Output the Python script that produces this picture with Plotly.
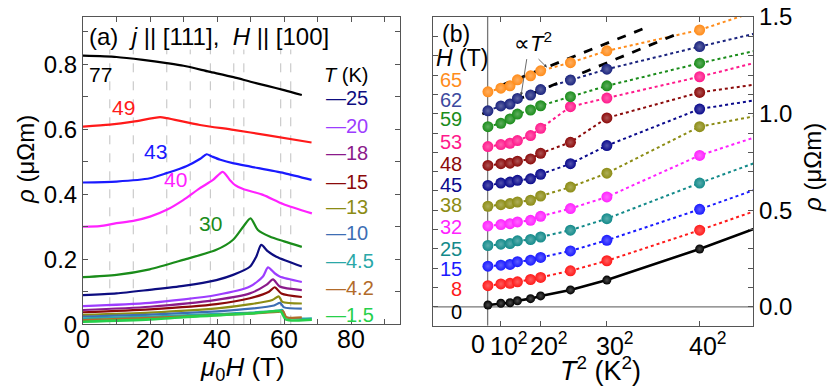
import plotly.graph_objects as go

W, H = 830, 391
FONT = "Liberation Sans, Arial, sans-serif"


def px(x):
    return x / W


def py(y):
    return 1 - y / H


def lighter(hex_color, f=0.55):
    r, g, b = (int(hex_color[i:i + 2], 16) for i in (1, 3, 5))
    r, g, b = (int(v + (255 - v) * f) for v in (r, g, b))
    return f"#{r:02x}{g:02x}{b:02x}"


# ---------------- panel (a): rho vs mu0H ----------------
h77 = [0, 10, 17.9, 25, 30, 37.6, 44.9, 50, 55, 60, 65.3]
r77 = [0.826, 0.822, 0.813, 0.803, 0.795, 0.777, 0.760, 0.746, 0.733, 0.720, 0.705]
h49 = [0, 8, 15, 23, 25, 34.9, 44.9, 54.8, 68.2]
r49 = [0.608, 0.614, 0.623, 0.637, 0.634, 0.613, 0.598, 0.582, 0.559]
h43 = [0, 10, 20, 25, 31, 35, 36.9, 38.5, 41, 45, 50, 60, 68.2]
r43 = [0.436, 0.439, 0.449, 0.465, 0.487, 0.509, 0.523, 0.516, 0.506, 0.495, 0.485, 0.465, 0.444]
h40 = [0, 5, 10, 15, 20, 25, 29.9, 34.8, 38.8, 41.7, 43.8, 45.4, 47.8, 53.7, 59.7, 68.3]
r40 = [0.300, 0.302, 0.311, 0.318, 0.331, 0.352, 0.382, 0.418, 0.444, 0.469, 0.444, 0.428, 0.416, 0.398, 0.370, 0.341]
h30 = [0, 10, 19.9, 29.9, 39.8, 44.8, 47.8, 50, 52.2, 55.7, 60, 65.3]
r30 = [0.145, 0.152, 0.169, 0.198, 0.229, 0.260, 0.300, 0.326, 0.290, 0.270, 0.255, 0.238]
h25 = [0, 10, 19.9, 29.9, 39.8, 44.8, 49.8, 51.7, 53.2, 55.2, 57.7, 65.3]
r25 = [0.090, 0.095, 0.106, 0.118, 0.136, 0.152, 0.177, 0.208, 0.244, 0.224, 0.208, 0.178]
h20 = [0, 19.9, 39.8, 49.8, 53.7, 55.2, 57.2, 58.7, 65.3]
r20 = [0.056, 0.066, 0.090, 0.116, 0.147, 0.175, 0.157, 0.147, 0.130]
h18 = [0, 19.9, 39.8, 49.8, 54.7, 56.7, 58.7, 65.3]
r18 = [0.044, 0.054, 0.075, 0.095, 0.121, 0.138, 0.116, 0.105]
h15 = [0, 19.9, 39.8, 49.8, 55.5, 57.2, 59.2, 65.3]
r15 = [0.037, 0.046, 0.062, 0.080, 0.100, 0.114, 0.095, 0.084]
h13 = [0, 20, 40, 50, 56.5, 58.4, 59.5, 65.3]
r13 = [0.029, 0.036, 0.049, 0.062, 0.075, 0.086, 0.069, 0.064]
h10 = [0, 20, 40, 50, 57, 58.8, 60, 65.3]
r10 = [0.024, 0.030, 0.040, 0.048, 0.058, 0.066, 0.052, 0.048]
h4_5 = [0, 20, 40, 50, 58, 59.5, 60.5, 68.3]
r4_5 = [0.018, 0.024, 0.032, 0.036, 0.042, 0.044, 0.022, 0.018]
h4_2 = [0, 20, 40, 50, 58, 59.7, 60.7, 65.3]
r4_2 = [0.013, 0.020, 0.028, 0.033, 0.038, 0.040, 0.022, 0.021]
h1_5 = [0, 20, 35, 50, 57, 59, 60.5, 68.3]
r1_5 = [0.008, 0.015, 0.025, 0.033, 0.040, 0.040, 0.015, 0.014]

curves_a = [
    ("77", h77, r77, "#000000"),
    ("49", h49, r49, "#ff1a1a"),
    ("43", h43, r43, "#1a1aff"),
    ("40", h40, r40, "#ff22ff"),
    ("30", h30, r30, "#1a8c1a"),
    ("25", h25, r25, "#0d0d80"),
    ("20", h20, r20, "#9d3dff"),
    ("18", h18, r18, "#8b1a8b"),
    ("15", h15, r15, "#8b0a0a"),
    ("13", h13, r13, "#8c8c14"),
    ("10", h10, r10, "#3d6eb4"),
    ("4.5", h4_5, r4_5, "#2aa8a8"),
    ("4.2", h4_2, r4_2, "#b26b2a"),
    ("1.5", h1_5, r1_5, "#26d04a"),
]
legend_T = ["25", "20", "18", "15", "13", "10", "4.5", "4.2", "1.5"]
legend_y = [0.696, 0.610, 0.527, 0.438, 0.361, 0.281, 0.195, 0.112, 0.029]
curve_labels = ["77", "49", "43", "40", "30"]
curve_label_x = [5.1, 12.2, 21.7, 27.7, 37.9]
curve_label_y = [0.767, 0.668, 0.531, 0.444, 0.311]
dash_fields = [8, 15, 25, 32, 38, 45, 48, 59, 62]
xtick_a = [0, 20, 40, 60, 80]

# ---------------- panel (b): rho vs T^2 ----------------
T_pts = [1.5, 10, 13, 15, 18, 20, 25, 30, 40]
T_edge = 46  # line continues past the right frame
fields = [0, 8, 15, 25, 32, 38, 45, 48, 53, 59, 62, 65]
field_colors = ["#000000", "#ff1a1a", "#1a1aff", "#138a8a", "#ff22ff", "#8c8c14",
                "#0a0a8c", "#8b0a0a", "#ff1a8c", "#1a8c1a", "#1a237e", "#ff8c1a"]
label_colors = ["#000000", "#ff1a1a", "#1a1aff", "#138a8a", "#ff22ff", "#8c8c14",
                "#0a0a8c", "#8b0a0a", "#ff1a8c", "#1a8c1a", "#3d4aa0", "#ff8c1a"]
rho_b = [
    [0.010, 0.019, 0.022, 0.032, 0.043, 0.057, 0.088, 0.139, 0.300],
    [0.110, 0.119, 0.122, 0.130, 0.142, 0.153, 0.187, 0.239, 0.397],
    [0.211, 0.216, 0.220, 0.234, 0.242, 0.256, 0.290, 0.345, 0.505],
    [0.318, 0.325, 0.328, 0.342, 0.349, 0.362, 0.397, 0.457, 0.641],
    [0.419, 0.426, 0.431, 0.440, 0.448, 0.469, 0.509, 0.569, 0.784],
    [0.521, 0.529, 0.535, 0.543, 0.552, 0.574, 0.620, 0.692, 0.933],
    [0.629, 0.641, 0.646, 0.655, 0.663, 0.686, 0.741, 0.835, 1.024],
    [0.732, 0.741, 0.744, 0.754, 0.766, 0.795, 0.852, 0.978, 1.110],
    [0.830, 0.840, 0.847, 0.861, 0.887, 0.924, 1.036, 1.081, 1.191],
    [0.933, 0.950, 0.973, 0.998, 1.019, 1.041, 1.088, 1.144, 1.261],
    [1.015, 1.040, 1.050, 1.079, 1.096, 1.125, 1.174, 1.230, 1.347],
    [1.113, 1.132, 1.144, 1.175, 1.196, 1.222, 1.264, 1.325, 1.433],
]
rho_edge = [0.43, 0.52, 0.63, 0.77, 0.90, 1.00, 1.08, 1.16, 1.28, 1.34, 1.43, 1.55]
field_label_y = [-0.026, 0.093, 0.196, 0.299, 0.412, 0.526, 0.629, 0.742, 0.851, 0.974, 1.072, 1.175]
fit_lo_x, fit_lo_y = [-40, 1454], [0.998, 1.419]
fit_hi_x, fit_hi_y = [-30, 1228], [1.110, 1.454]
xtick_b = [0, 100, 400, 900, 1600]
xtick_b_text = ["0", "10<sup>2</sup>", "20<sup>2</sup>", "30<sup>2</sup>", "40<sup>2</sup>"]

fig = go.Figure()

for name, hh, rr, col in curves_a:
    fig.add_trace(go.Scatter(x=hh, y=rr, mode="lines", xaxis="x", yaxis="y",
                             line=dict(color=col, width=2.6 if name == "1.5" else 2.2,
                                       shape="spline", smoothing=0.7),
                             showlegend=False, hoverinfo="skip"))

T2 = [t ** 2 for t in T_pts] + [T_edge ** 2]
for f, col, rr, re in zip(fields, field_colors, rho_b, rho_edge):
    solid = f == 0
    fig.add_trace(go.Scatter(x=T2, y=rr + [re], mode="lines", xaxis="x2", yaxis="y2",
                             line=dict(color=col, width=2.6 if solid else 2,
                                       dash="solid" if solid else "dot"),
                             showlegend=False, hoverinfo="skip"))
for xs, ys in ((fit_lo_x, fit_lo_y), (fit_hi_x, fit_hi_y)):
    fig.add_trace(go.Scatter(x=xs, y=ys, mode="lines", xaxis="x2", yaxis="y2",
                             line=dict(color="black", width=2.8, dash="dash"),
                             showlegend=False, hoverinfo="skip"))
for f, col, rr in zip(fields, field_colors, rho_b):
    fig.add_trace(go.Scatter(x=T2[:-1], y=rr, mode="markers", xaxis="x2", yaxis="y2",
                             marker=dict(size=9 if f == 0 else 11, color=col, line=dict(width=0),
                                         gradient=dict(type="radial", color=lighter(col, 0.3))),
                             showlegend=False, hoverinfo="skip"))


def text(x, y, s, size, color="black", xref="paper", yref="paper", xa="center", ya="middle", **kw):
    return dict(x=x, y=y, xref=xref, yref=yref, text=s, showarrow=False,
                xanchor=xa, yanchor=ya, font=dict(size=size, color=color), **kw)


ann = []
for t, yv in zip(legend_T, legend_y):
    col = [c for n, _, _, c in curves_a if n == t][0]
    ann.append(text(px(324), yv, "\u2014" + t, 20, col, yref="y", xa="left"))
ann.append(text(px(322), 0.767, "<i>T</i> (K)", 20, yref="y", xa="left"))
for lab, xv, yv in zip(curve_labels, curve_label_x, curve_label_y):
    col = [c for n, _, _, c in curves_a if n == lab][0]
    ann.append(text(xv, yv, lab, 21, col, xref="x", yref="y"))
ann.append(text(px(87), py(36), "(a)  <i>j</i> || [111],  <i>H</i> || [100]", 24, xa="left"))
for xv in xtick_a:
    ann.append(text(xv, py(339), str(xv), 25, xref="x"))
ann.append(text(px(242), py(368), "<i>\u03bc</i><sub>0</sub><i>H</i> (T)", 26))
ann.append(text(px(26), py(160), "<i>\u03c1</i> (\u03bc\u03a9m)", 24, textangle=-90))

# panel (b) texts
ann.append(text(px(440), py(34), "(b)", 23, xa="left"))
ann.append(text(px(434), py(58), "<i>H</i> (T)", 23, xa="left"))
for f, col, yv in zip(fields, label_colors, field_label_y):
    ann.append(text(px(464), yv, str(f), 20, col, yref="y2", xa="right"))
for xv, txt in zip(xtick_b, xtick_b_text):
    ann.append(text(xv, py(344), txt, 25, xref="x2", xshift=-10 if xv == 0 else 8))
ann.append(text(px(600), py(369), "<i>T</i><sup>2</sup> (K<sup>2</sup>)", 27))
ann.append(text(px(812), py(168), "<i>\u03c1</i> (\u03bc\u03a9m)", 24, textangle=-90))
ann.append(text(px(533), py(42), "\u221d<i>T</i><sup>2</sup>", 22))
for (hx, hy), (tx, ty) in (((252, 1.093), (297, 1.290)), ((448, 1.239), (373, 1.290))):
    ann.append(dict(x=hx, y=hy, ax=tx, ay=ty, xref="x2", yref="y2", axref="x2", ayref="y2",
                    text="", showarrow=True, arrowhead=2, arrowsize=0.8, arrowwidth=0.8,
                    arrowcolor="#444"))

shapes = []
for f in dash_fields:
    shapes.append(dict(type="line", xref="x", yref="y", x0=f, x1=f, y0=0, y1=0.845,
                       line=dict(color="#c0c0c0", width=1, dash="dash"), layer="below"))
shapes.append(dict(type="line", xref="x2", yref="y2", x0=0, x1=0, y0=-0.097, y1=1.5,
                   line=dict(color="#777", width=1.3), layer="below"))
shapes.append(dict(type="line", xref="x2", yref="y2", x0=-410, x1=2005, y0=0, y1=0,
                   line=dict(color="#777", width=1.3), layer="below"))

axis_common = dict(showline=True, linecolor="#555", linewidth=1, ticks="inside", ticklen=5,
                   tickcolor="#555", mirror="ticks", showgrid=False, zeroline=False,
                   automargin=False,
                   tickfont=dict(size=24, color="black", family=FONT))

fig.update_layout(
    template="none",
    width=W, height=H,
    margin=dict(l=0, r=0, t=0, b=0, pad=0),
    paper_bgcolor="white", plot_bgcolor="white",
    font=dict(family=FONT, color="black"),
    xaxis=dict(domain=[px(83), px(400)], range=[0, 94.6], anchor="y",
               tickvals=xtick_a, showticklabels=False,
               minor=dict(dtick=10, ticks="inside", ticklen=5, tickcolor="#555"),
               **axis_common),
    yaxis=dict(domain=[py(324.3), py(17)], range=[0, 0.945], anchor="x",
               tickvals=[0, 0.2, 0.4, 0.6, 0.8],
               minor=dict(dtick=0.1, ticks="inside", ticklen=5, tickcolor="#555"),
               **axis_common),
    xaxis2=dict(domain=[px(433.3), px(753.3)], range=[-410, 2005], anchor="y2",
                tickvals=xtick_b[1:], showticklabels=False, **axis_common),
    yaxis2=dict(domain=[py(325.7), py(17)], range=[-0.097, 1.5002], anchor="x2", side="right",
                tickvals=[0, 0.5, 1.0, 1.5], tickformat=".1f",
                minor=dict(dtick=0.1, ticks="inside", ticklen=5, tickcolor="#555"),
                **axis_common),
    annotations=ann,
    shapes=shapes,
)

# the page body has a default 8px margin; drop it so the figure sits at the window corner
fig.write_html("out.html", config={"displayModeBar": False},
               post_script="document.body.style.margin='0';")
